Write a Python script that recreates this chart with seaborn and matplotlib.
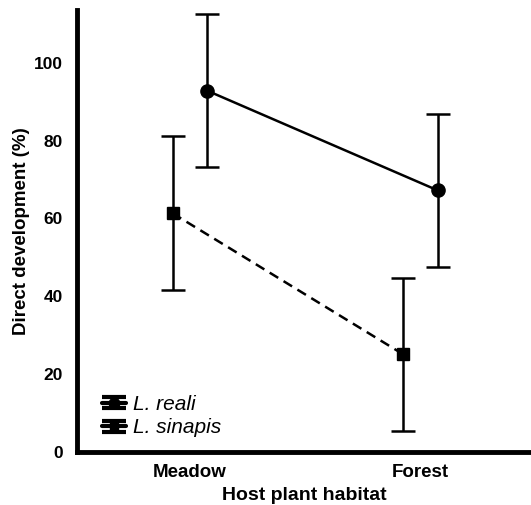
import matplotlib
matplotlib.use("Agg")
import matplotlib.pyplot as plt
from matplotlib.legend_handler import HandlerErrorbar
import seaborn as sns
import pandas as pd
import numpy as np

habitats = ["Meadow", "Forest"]
species = ["L. reali", "L. sinapis"]
reali_mean = [92.8, 67.2]
reali_err = [19.7, 19.6]
sinapis_mean = [61.3, 25.1]
sinapis_err = [19.8, 19.6]

sns.set_style("white")
plt.rcParams["font.family"] = ["Liberation Sans", "DejaVu Sans"]
plt.rcParams["text.color"] = "black"
plt.rcParams["axes.labelcolor"] = "black"
plt.rcParams["xtick.color"] = "black"
plt.rcParams["ytick.color"] = "black"

rows = []
for sp, means, errs in [(species[0], reali_mean, reali_err), (species[1], sinapis_mean, sinapis_err)]:
    for i, h in enumerate(habitats):
        rows.append({"habitat": h, "idx": i, "species": sp, "mean": means[i], "err": errs[i]})
df = pd.DataFrame(rows)
offsets = {species[0]: 0.075, species[1]: -0.075}
df["x"] = df["idx"] + df["species"].map(offsets)

fig = plt.figure(figsize=(5.31, 5.05), dpi=100)
ax = fig.add_axes([0.145, 0.105, 0.855, 0.875])

styles = {species[0]: dict(marker="o", ms=9.5),
          species[1]: dict(marker="s", ms=8)}

sns.lineplot(data=df, x="x", y="mean", style="species", ax=ax, color="black",
             dashes={species[0]: "", species[1]: (4, 2.5)}, markers=False,
             linewidth=1.8, legend=False, sort=False)

for sp in species:
    sub = df[df["species"] == sp]
    st = styles[sp]
    ax.errorbar(sub["x"], sub["mean"], yerr=sub["err"], fmt=st["marker"],
                color="black", ms=st["ms"], capsize=8.5, capthick=1.8,
                elinewidth=1.8, linestyle="none")

# legend-only proxies (no data drawn)
handles = []
for sp in species:
    st = styles[sp]
    h = ax.errorbar([np.nan], [np.nan], yerr=[1], fmt=st["marker"] + "-",
                    color="black", ms=st["ms"] * 0.8, capsize=8.5, capthick=3,
                    elinewidth=2.5, linewidth=3)
    handles.append(h)

ax.set_xlim(-0.49, 1.48)
ax.set_ylim(0, 113.5)
ax.set_xticks(range(len(habitats)))
ax.set_xticklabels(habitats)
ax.set_yticks([0, 20, 40, 60, 80, 100])
ax.tick_params(axis="both", length=0, labelsize=12.5)
ax.tick_params(axis="x", pad=9, labelsize=13.5)
ax.tick_params(axis="y", pad=10)
for lab in ax.get_xticklabels() + ax.get_yticklabels():
    lab.set_fontweight("bold")

for s in ["top", "right"]:
    ax.spines[s].set_visible(False)
for s in ["left", "bottom"]:
    ax.spines[s].set_linewidth(3.5)
    ax.spines[s].set_color("black")

ax.set_xlabel("Host plant habitat", fontsize=14, fontweight="bold", labelpad=4)
ax.set_ylabel("Direct development (%)", fontsize=13.5, fontweight="bold", labelpad=3)

leg = ax.legend(handles=handles, labels=species, loc="lower left", frameon=False,
                bbox_to_anchor=(0.022, 0.0), handlelength=1.15, handletextpad=0.35,
                labelspacing=0.22, borderpad=0.2,
                handler_map={type(handles[0]): HandlerErrorbar(xerr_size=0.5, yerr_size=0.26)},
                prop={"style": "italic", "size": 15})

fig.savefig("out.png", dpi=100)
